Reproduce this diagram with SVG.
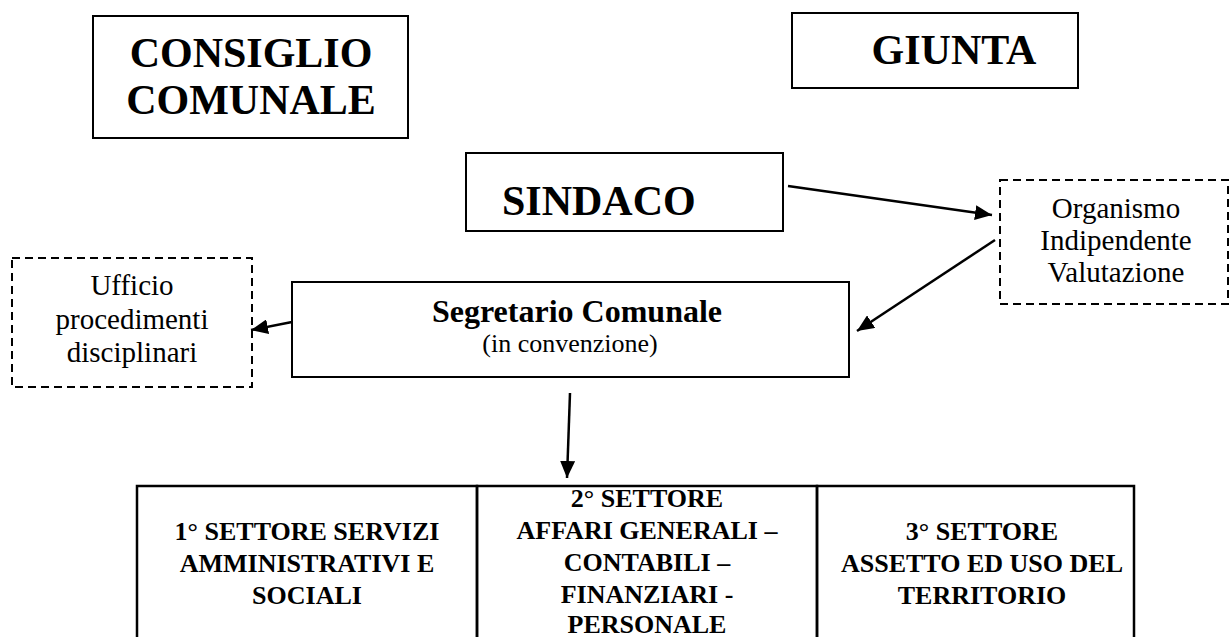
<svg xmlns="http://www.w3.org/2000/svg" width="1232" height="637" viewBox="0 0 1232 637">
<style>
  .box{fill:#fff;stroke:#000;stroke-width:2}
  .dash{fill:#fff;stroke:#000;stroke-width:2;stroke-dasharray:8 5}
  .tbl{fill:none;stroke:#000;stroke-width:2.5}
  .big{font-family:"Liberation Serif","Times New Roman",serif;font-weight:bold;font-size:42px;fill:#000}
  .reg{font-family:"Liberation Serif","Times New Roman",serif;font-size:29px;fill:#000}
  .seg{font-family:"Liberation Serif","Times New Roman",serif;font-weight:bold;font-size:32px;fill:#000}
  .conv{font-family:"Liberation Serif","Times New Roman",serif;font-size:26px;fill:#000}
  .cell{font-family:"Liberation Serif","Times New Roman",serif;font-weight:bold;font-size:26px;fill:#000}
  .conn{stroke:#000;stroke-width:2.5;fill:none;marker-end:url(#ah)}
</style>
<defs>
  <marker id="ah" markerUnits="userSpaceOnUse" markerWidth="19" markerHeight="15" refX="17" refY="7.5" orient="auto">
    <path d="M0,0 L17,7.5 L0,15 z" fill="#000"/>
  </marker>
</defs>
<rect width="1232" height="637" fill="#fff"/>

<g id="consiglio">
  <rect class="box" x="93" y="16" width="315" height="122"/>
  <text class="big" x="251" y="67" text-anchor="middle">CONSIGLIO</text>
  <text class="big" x="251" y="114" text-anchor="middle">COMUNALE</text>
</g>

<g id="giunta">
  <rect class="box" x="792" y="13" width="286" height="75"/>
  <text class="big" x="954" y="64" text-anchor="middle">GIUNTA</text>
</g>

<g id="sindaco">
  <rect class="box" x="466" y="153" width="317" height="78"/>
  <text class="big" x="502" y="215">SINDACO</text>
</g>

<g id="oiv">
  <rect class="dash" x="1000" y="180" width="228" height="124"/>
  <text class="reg" x="1116" y="218" text-anchor="middle">Organismo</text>
  <text class="reg" x="1116" y="250" text-anchor="middle">Indipendente</text>
  <text class="reg" x="1116" y="282" text-anchor="middle">Valutazione</text>
</g>

<g id="ufficio">
  <rect class="dash" x="12" y="258" width="240" height="129"/>
  <text class="reg" x="132" y="295" text-anchor="middle">Ufficio</text>
  <text class="reg" x="132" y="329" text-anchor="middle">procedimenti</text>
  <text class="reg" x="132" y="362" text-anchor="middle">disciplinari</text>
</g>

<g id="segretario">
  <rect class="box" x="292" y="282" width="557" height="95"/>
  <text class="seg" x="577" y="322" text-anchor="middle">Segretario Comunale</text>
  <text class="conv" x="570" y="352" text-anchor="middle">(in convenzione)</text>
</g>

<g id="settore1">
  <rect class="tbl" x="137" y="486" width="340" height="160"/>
  <text class="cell" x="307" y="540" text-anchor="middle">1° SETTORE SERVIZI</text>
  <text class="cell" x="307" y="572" text-anchor="middle">AMMINISTRATIVI E</text>
  <text class="cell" x="307" y="604" text-anchor="middle">SOCIALI</text>
</g>

<g id="settore2">
  <rect class="tbl" x="477" y="486" width="340" height="160"/>
  <text class="cell" x="647" y="507" text-anchor="middle">2° SETTORE</text>
  <text class="cell" x="647" y="539" text-anchor="middle">AFFARI GENERALI –</text>
  <text class="cell" x="647" y="571" text-anchor="middle">CONTABILI –</text>
  <text class="cell" x="647" y="603" text-anchor="middle">FINANZIARI -</text>
  <text class="cell" x="647" y="633" text-anchor="middle">PERSONALE</text>
</g>

<g id="settore3">
  <rect class="tbl" x="817" y="486" width="317" height="160"/>
  <text class="cell" x="982" y="540" text-anchor="middle">3° SETTORE</text>
  <text class="cell" x="982" y="572" text-anchor="middle">ASSETTO ED USO DEL</text>
  <text class="cell" x="982" y="604" text-anchor="middle">TERRITORIO</text>
</g>

<g id="connectors">
  <line class="conn" x1="788" y1="186" x2="992" y2="215"/>
  <line class="conn" x1="995" y1="240" x2="857" y2="331"/>
  <line class="conn" x1="292" y1="322" x2="251" y2="330"/>
  <line class="conn" x1="570" y1="393" x2="567" y2="478"/>
</g>
</svg>
